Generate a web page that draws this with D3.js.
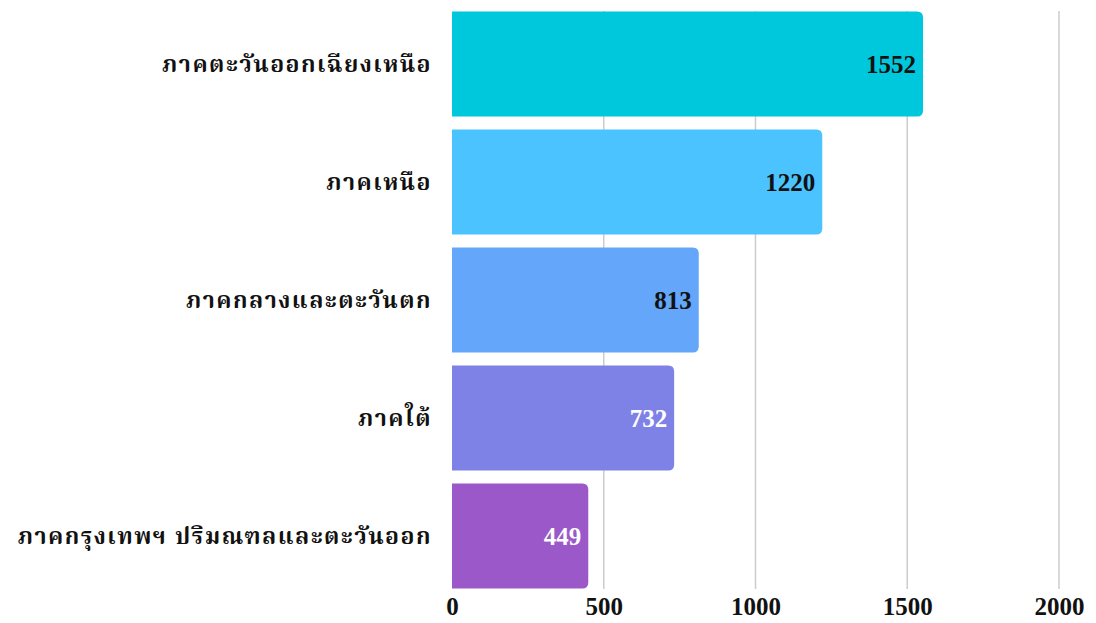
<!DOCTYPE html>
<html lang="th">
<head>
  <meta charset="UTF-8">
  <title>Regions</title>
  <script src="https://d3js.org/d3.v7.min.js"></script>
  <style>
    body {
      margin: 0;
      background: #fff;
    }
    svg {
      display: block;
    }
    .cat {
      font-family: "Noto Serif Thai", "Noto Sans Thai", "Noto Sans", "DejaVu Sans", sans-serif;
      font-weight: 700;
      font-size: 23px;
      letter-spacing: 1.5px;
      fill: #111;
    }
    .num {
      font-family: "Liberation Serif", "DejaVu Serif", serif;
      font-weight: 700;
      font-size: 25px;
    }
    .grid line {
      stroke: #cccccc;
      stroke-width: 1.5px;
    }
  </style>
</head>
<body>
  <svg width="1096" height="623"></svg>
  <script>
    const categories = [
      "ภาคตะวันออกเฉียงเหนือ",
      "ภาคเหนือ",
      "ภาคกลางและตะวันตก",
      "ภาคใต้",
      "ภาคกรุงเทพฯ ปริมณฑลและตะวันออก"
    ];
    const values = [1552, 1220, 813, 732, 449];
    const barColors = ["#00c8dc", "#4ac3ff", "#64a6fa", "#7e81e6", "#9a58c8"];
    const labelColors = ["#111", "#111", "#111", "#fff", "#fff"];
    const ticks = [0, 500, 1000, 1500, 2000];

    const svg = d3.select("svg");

    const x = d3.scaleLinear()
      .domain([0, 2000])
      .range([452, 1059]);

    const y = d3.scaleBand()
      .domain(categories)
      .range([5, 595])
      .paddingInner(0.11)
      .paddingOuter(0.055);

    // gridlines
    svg.append("g")
      .attr("class", "grid")
      .selectAll("line")
      .data(ticks.slice(1))
      .enter().append("line")
        .attr("x1", d => x(d))
        .attr("x2", d => x(d))
        .attr("y1", 11)
        .attr("y2", 589);

    // bars with rounded right corners
    const r = 6;
    function barPath(d) {
      const x0 = x(0), x1 = x(d.value);
      const y0 = y(d.cat), y1 = y0 + y.bandwidth();
      return `M${x0},${y0}H${x1 - r}Q${x1},${y0} ${x1},${y0 + r}V${y1 - r}Q${x1},${y1} ${x1 - r},${y1}H${x0}Z`;
    }

    const rows = categories.map((c, i) => ({cat: c, value: values[i], i: i}));

    svg.append("g")
      .selectAll("path")
      .data(rows)
      .enter().append("path")
        .attr("d", barPath)
        .attr("fill", d => barColors[d.i]);

    // value labels
    svg.append("g")
      .selectAll("text")
      .data(rows)
      .enter().append("text")
        .attr("class", "num")
        .attr("x", d => x(d.value) - 7)
        .attr("y", d => y(d.cat) + y.bandwidth() / 2)
        .attr("dy", "0.35em")
        .attr("text-anchor", "end")
        .attr("fill", d => labelColors[d.i])
        .text(d => d.value);

    // category labels
    svg.append("g")
      .selectAll("text")
      .data(rows)
      .enter().append("text")
        .attr("class", "cat")
        .attr("x", 432)
        .attr("y", d => y(d.cat) + y.bandwidth() / 2)
        .attr("dy", "0.35em")
        .attr("text-anchor", "end")
        .text(d => d.cat);

    // x axis
    const xAxis = svg.append("g")
      .attr("transform", "translate(0,593)")
      .call(d3.axisBottom(x).tickValues(ticks).tickFormat(d3.format("d")).tickSize(0).tickPadding(4));
    xAxis.select(".domain").remove();
    xAxis.selectAll("text")
      .attr("class", "num")
      .attr("fill", "#111")
      .style("font-size", "25px");
  </script>
</body>
</html>
